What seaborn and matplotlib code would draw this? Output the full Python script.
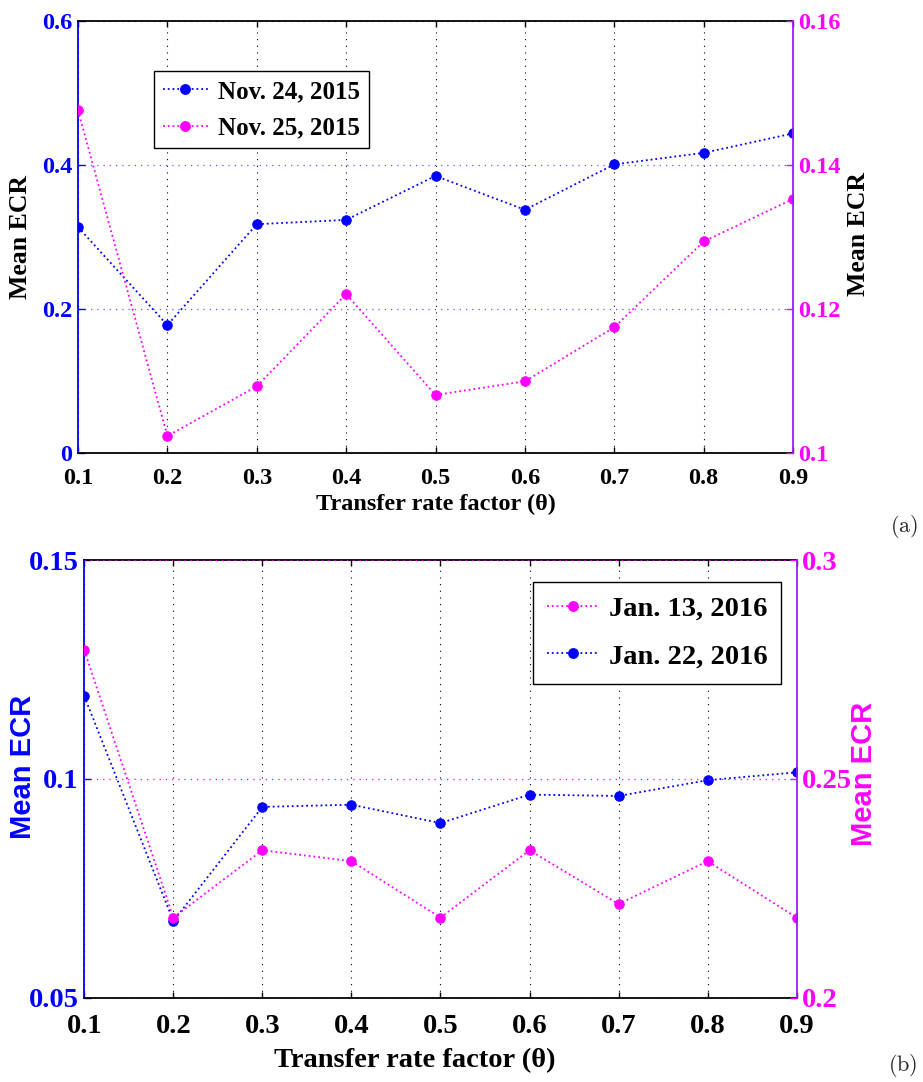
import matplotlib
matplotlib.use("Agg")
import matplotlib.pyplot as plt
import seaborn as sns
from matplotlib.lines import Line2D

# ---- data -------------------------------------------------------------
theta = [0.1, 0.2, 0.3, 0.4, 0.5, 0.6, 0.7, 0.8, 0.9]
theta_labels = ["0.1", "0.2", "0.3", "0.4", "0.5", "0.6", "0.7", "0.8", "0.9"]

# panel (a)
ecr_nov24 = [0.314, 0.178, 0.318, 0.324, 0.385, 0.338, 0.401, 0.417, 0.444]
ecr_nov25 = [0.1476, 0.1024, 0.1093, 0.1221, 0.1081, 0.1100, 0.1175, 0.1294, 0.1353]
a_left_ticks = [0, 0.2, 0.4, 0.6]
a_left_labels = ["0", "0.2", "0.4", "0.6"]
a_right_ticks = [0.1, 0.12, 0.14, 0.16]
a_right_labels = ["0.1", "0.12", "0.14", "0.16"]

# panel (b)
ecr_jan22 = [0.1189, 0.0675, 0.0936, 0.0941, 0.0899, 0.0964, 0.0961, 0.0997, 0.1015]
ecr_jan13 = [0.2794, 0.2183, 0.2337, 0.2312, 0.2183, 0.2337, 0.2214, 0.2312, 0.2183]
b_left_ticks = [0.05, 0.1, 0.15]
b_left_labels = ["0.05", "0.1", "0.15"]
b_right_ticks = [0.2, 0.25, 0.3]
b_right_labels = ["0.2", "0.25", "0.3"]

# ---- style ------------------------------------------------------------
sns.set_style("white")
plt.rcParams["font.family"] = ["Liberation Serif", "DejaVu Serif"]
plt.rcParams["mathtext.fontset"] = "cm"

BLUE = "#0000ff"
MAGENTA = "#ff00ff"
VIOLET = "#9a1cff"
SERIF = ["Liberation Serif", "DejaVu Serif"]
SANS = ["Liberation Sans", "DejaVu Sans"]

fig = plt.figure(figsize=(9.23, 10.82), dpi=100)


def series(ax, y, color):
    sns.lineplot(x=theta, y=y, ax=ax, color=color, marker="o", markersize=6.8,
                 markeredgecolor=color, markerfacecolor=color, linestyle=":",
                 linewidth=1.3, sort=False, errorbar=None, legend=False)


def frame(ax, ax2, fs, xpad, left_ticks, left_labels, right_ticks,
          right_labels, grid_color, right_grid):
    ax.set_xlim(0.1, 0.9)
    ax.set_xticks(theta)
    ax.set_xticklabels(theta_labels, fontsize=fs, fontweight="bold",
                       family=SERIF, color="black")
    ax.set_ylim(left_ticks[0], left_ticks[-1])
    ax.set_yticks(left_ticks)
    ax.set_yticklabels(left_labels, fontsize=fs, fontweight="bold",
                       family=SERIF, color=BLUE)
    ax2.set_ylim(right_ticks[0], right_ticks[-1])
    ax2.set_yticks(right_ticks)
    ax2.set_yticklabels(right_labels, fontsize=fs, fontweight="bold",
                        family=SERIF, color=MAGENTA)

    ax.tick_params(axis="x", direction="in", length=4, width=1, colors="black",
                   top=True, bottom=True, pad=xpad)
    ax.tick_params(axis="y", direction="in", length=5, width=1, color=BLUE,
                   left=True, right=False, pad=4)
    ax2.tick_params(axis="y", direction="in", length=5, width=1,
                    color=MAGENTA, right=True, left=False, pad=4)

    ax.grid(True, axis="x", color="black", linestyle=(0, (1, 5)), linewidth=0.8)
    if right_grid:
        ax.grid(False, axis="y")
        ax2.grid(True, axis="y", color=grid_color, linestyle=(0, (1, 4)),
                 linewidth=0.9)
    else:
        ax.grid(True, axis="y", color=grid_color, linestyle=(0, (1, 4)),
                linewidth=0.9)
        ax2.grid(False, axis="y")
    ax2.grid(False, axis="x")

    for name in ("top", "bottom"):
        ax.spines[name].set_color("black")
        ax.spines[name].set_linewidth(1.3)
        ax2.spines[name].set_visible(False)
    ax.spines["left"].set_color(BLUE)
    ax.spines["left"].set_linewidth(1.3)
    ax.spines["right"].set_visible(False)
    ax2.spines["left"].set_visible(False)
    ax2.spines["right"].set_color(VIOLET)
    ax2.spines["right"].set_linewidth(1.3)
    ax.set_axisbelow(True)


def handle(color):
    return Line2D([], [], color=color, marker="o", markersize=6.8,
                  linestyle=":", linewidth=1.3)


# ---- panel (a) --------------------------------------------------------
axa = fig.add_axes([0.0845, 0.5810, 0.7747, 0.3996])
axa2 = axa.twinx()
series(axa, ecr_nov24, BLUE)
series(axa2, ecr_nov25, MAGENTA)
frame(axa, axa2, 17.5, 10.5, a_left_ticks, a_left_labels, a_right_ticks,
      a_right_labels, "#5a5aff", right_grid=False)

axa.set_xlabel("Transfer rate factor (θ)", fontsize=17.5, fontweight="bold",
               family=SERIF, color="black")
axa.xaxis.set_label_coords(0.5, -0.131)
axa.xaxis.label.set_verticalalignment("baseline")
axa.set_ylabel("Mean ECR", fontsize=18.5, fontweight="bold", family=SERIF,
               color="black")
axa.yaxis.set_label_coords(-0.064, 0.50)
axa2.set_ylabel("Mean ECR", fontsize=18.5, fontweight="bold", family=SERIF,
                color="black")
axa2.yaxis.set_label_coords(1.075, 0.507)

axa2.legend([handle(BLUE), handle(MAGENTA)], ["Nov. 24, 2015", "Nov. 25, 2015"],
            loc="upper left", bbox_to_anchor=(0.1063, 0.884), borderaxespad=0,
            prop={"family": SERIF, "weight": "bold", "size": 18},
            labelcolor="black", frameon=True, fancybox=False,
            edgecolor="black", framealpha=1, handlelength=1.8,
            handletextpad=0.4, borderpad=0.35, labelspacing=0.55)

# ---- panel (b) --------------------------------------------------------
axb = fig.add_axes([0.0913, 0.0779, 0.7718, 0.4045])
axb2 = axb.twinx()
series(axb, ecr_jan22, BLUE)
series(axb2, ecr_jan13, MAGENTA)
frame(axb, axb2, 20.5, 11.5, b_left_ticks, b_left_labels, b_right_ticks,
      b_right_labels, MAGENTA, right_grid=True)

axb.set_xlabel("Transfer rate factor (θ)", fontsize=20.5, fontweight="bold",
               family=SERIF, color="black")
axb.xaxis.set_label_coords(0.464, -0.158)
axb.xaxis.label.set_verticalalignment("baseline")
axb.set_ylabel("Mean ECR", fontsize=21, fontweight="bold", family=SANS,
               color=BLUE)
axb.yaxis.set_label_coords(-0.067, 0.527)
axb2.set_ylabel("Mean ECR", fontsize=21, fontweight="bold", family=SANS,
                color=MAGENTA)
axb2.yaxis.set_label_coords(1.075, 0.511)

axb2.legend([handle(MAGENTA), handle(BLUE)], ["Jan. 13, 2016", "Jan. 22, 2016"],
            loc="upper left", bbox_to_anchor=(0.630, 0.950), borderaxespad=0,
            prop={"family": SERIF, "weight": "bold", "size": 20.5},
            labelcolor="black", frameon=True, fancybox=False,
            edgecolor="black", framealpha=1, handlelength=1.8,
            handletextpad=0.35, borderpad=0.5, labelspacing=0.75)

# ---- panel tags -------------------------------------------------------
fig.text(0.9795, 0.5130, r"$\mathrm{(a)}$", fontsize=16, ha="center",
         va="center")
fig.text(0.9785, 0.0157, r"$\mathrm{(b)}$", fontsize=16, ha="center",
         va="center")

fig.savefig("out.png", dpi=100)
